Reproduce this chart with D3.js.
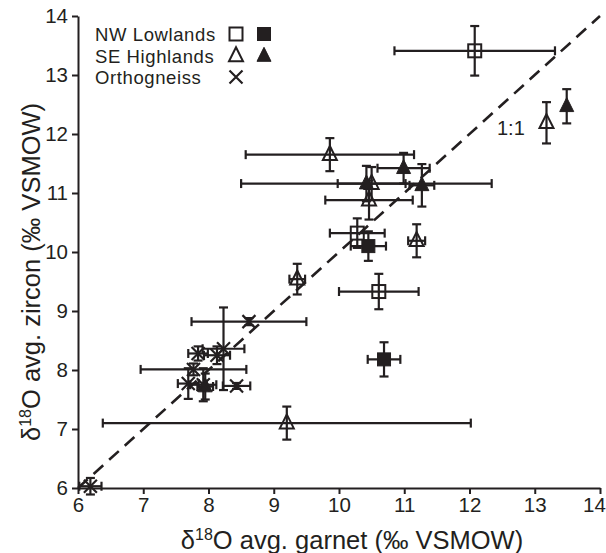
<!DOCTYPE html>
<html><head><meta charset="utf-8">
<script src="https://cdn.jsdelivr.net/npm/d3@7"></script>
<style>body{margin:0;background:#fff}svg{display:block}text{font-family:"Liberation Sans",Arial,sans-serif;fill:#231f20}</style>
</head><body>
<svg id="c" width="606" height="553"></svg>
<script>
// ---- data ----
const xTicks = [6,7,8,9,10,11,12,13,14];
const yTicks = [6,7,8,9,10,11,12,13,14];
const seriesNames = ["NW Lowlands","SE Highlands","Orthogneiss"];
// [garnet, zircon, garnetErr, zirconErr]
const nwOpen = [[12.08,13.41,1.23,0.42],[10.28,10.32,0.42,0.25],[10.61,9.33,0.61,0.30]];
const nwFilled = [[10.45,10.10,0.27,0.25],[10.69,8.18,0.25,0.29]];
const seOpen = [[13.18,12.19,0,0.35],[9.86,11.65,1.29,0.28],[10.50,11.16,0.52,0.28],[10.46,10.88,0.67,0.33],[11.19,10.19,0.13,0.28],[9.36,9.54,0.12,0.26],[9.20,7.10,2.82,0.28]];
const seFilled = [[13.49,12.47,0,0.29],[10.99,11.42,0.40,0.26],[10.42,11.16,1.92,0.30],[11.27,11.13,0.19,0.36],[7.95,7.72,0.12,0.22]];
const ortho = [[8.62,8.82,0.88,0.06],[8.23,8.36,0.32,0.70],[7.84,8.28,0.15,0.12],[8.13,8.25,0.20,0.15],[7.77,8.01,0.81,0.10],[7.69,7.77,0.16,0.26],[7.92,7.75,0.20,0.28],[8.43,7.73,0.21,0.05],[6.19,6.03,0.17,0.14]];
const oneToOne = [[6,6],[14,14]];

const ink = "#231f20";
const svg = d3.select("#c");
const x = d3.scaleLinear().domain([6,14]).range([78,600]);
const y = d3.scaleLinear().domain([6,14]).range([488,16]);

// axes
const xa = svg.append("g").attr("transform","translate(0,488)")
  .call(d3.axisBottom(x).tickValues(xTicks).tickSize(6).tickPadding(3).tickSizeOuter(0));
const ya = svg.append("g").attr("transform","translate(78,0)")
  .call(d3.axisLeft(y).tickValues(yTicks).tickSize(6).tickPadding(4).tickSizeOuter(0));
[xa,ya].forEach(a=>{
  a.select(".domain").attr("stroke",ink).attr("stroke-width",2);
  a.selectAll(".tick line").attr("stroke",ink).attr("stroke-width",2);
  a.selectAll(".tick text").attr("font-size",20.5).attr("fill",ink).style("font-family",'"Liberation Sans",Arial,sans-serif');
});
xa.selectAll(".tick text").filter(d=>d===14).attr("dx",-6);

// axis titles
const xt = svg.append("text").attr("x",352).attr("y",549).attr("text-anchor","middle").attr("font-size",25.5);
xt.append("tspan").text("δ");
xt.append("tspan").attr("font-size",16).attr("dy",-9).text("18");
xt.append("tspan").attr("dy",9).text("O avg. garnet (‰ VSMOW)");
const yt = svg.append("text").attr("transform","translate(40,272) rotate(-90)").attr("text-anchor","middle").attr("font-size",25.5);
yt.append("tspan").text("δ");
yt.append("tspan").attr("font-size",16).attr("dy",-9).text("18");
yt.append("tspan").attr("dy",9).text("O avg. zircon (‰ VSMOW)");

// 1:1 line
svg.append("path").attr("d",d3.line().x(d=>x(d[0])).y(d=>y(d[1]))(oneToOne))
  .attr("stroke",ink).attr("stroke-width",2.6).attr("stroke-dasharray","13,8").attr("fill","none");
svg.append("text").attr("x",497).attr("y",135).attr("font-size",20).text("1:1");

// error bars
const all = [].concat(nwOpen,nwFilled,seOpen,seFilled,ortho);
const eb = svg.append("g").attr("stroke",ink).attr("stroke-width",2.2).attr("fill","none");
const cap = 4.5;
all.forEach(d=>{
  const cx=x(d[0]), cy=y(d[1]);
  if(d[2]>0){
    const x0=x(d[0]-d[2]), x1=x(d[0]+d[2]);
    eb.append("line").attr("x1",x0).attr("x2",x1).attr("y1",cy).attr("y2",cy);
    eb.append("line").attr("x1",x0).attr("x2",x0).attr("y1",cy-cap).attr("y2",cy+cap);
    eb.append("line").attr("x1",x1).attr("x2",x1).attr("y1",cy-cap).attr("y2",cy+cap);
  }
  if(d[3]>0){
    const y0=y(d[1]-d[3]), y1=y(d[1]+d[3]);
    eb.append("line").attr("x1",cx).attr("x2",cx).attr("y1",y0).attr("y2",y1);
    eb.append("line").attr("x1",cx-cap).attr("x2",cx+cap).attr("y1",y0).attr("y2",y0);
    eb.append("line").attr("x1",cx-cap).attr("x2",cx+cap).attr("y1",y1).attr("y2",y1);
  }
});

// markers
const mk = svg.append("g");
function square(g,cx,cy,filled){
  g.append("rect").attr("x",cx-6.5).attr("y",cy-6.5).attr("width",13).attr("height",13)
   .attr("fill",filled?ink:"none").attr("stroke",ink).attr("stroke-width",filled?1:2);
}
function tri(g,cx,cy,filled){
  const h=14,w=14;
  g.append("path").attr("d",`M${cx},${cy-h*0.62}L${cx+w/2},${cy+h*0.38}L${cx-w/2},${cy+h*0.38}Z`)
   .attr("fill",filled?ink:"none").attr("stroke",ink).attr("stroke-width",filled?1:2).attr("stroke-linejoin","miter");
}
function cross(g,cx,cy){
  const r=6.5;
  g.append("path").attr("d",`M${cx-r},${cy-r}L${cx+r},${cy+r}M${cx-r},${cy+r}L${cx+r},${cy-r}`)
   .attr("stroke",ink).attr("stroke-width",2.2).attr("fill","none");
}
nwOpen.forEach(d=>square(mk,x(d[0]),y(d[1]),false));
nwFilled.forEach(d=>square(mk,x(d[0]),y(d[1]),true));
seOpen.forEach(d=>tri(mk,x(d[0]),y(d[1]),false));
seFilled.forEach(d=>tri(mk,x(d[0]),y(d[1]),true));
ortho.forEach(d=>cross(mk,x(d[0]),y(d[1])));

// legend
const lg = svg.append("g");
const rows=[41,62.5,84];
seriesNames.forEach((n,i)=>lg.append("text").attr("x",95).attr("y",rows[i]).attr("font-size",18.5).attr("letter-spacing",0.6).text(n));
square(lg,236,rows[0]-7,false); square(lg,264,rows[0]-7,true);
tri(lg,236,rows[1]-6.5,false); tri(lg,264,rows[1]-6.5,true);
cross(lg,236,rows[2]-7);
</script>
</body></html>
